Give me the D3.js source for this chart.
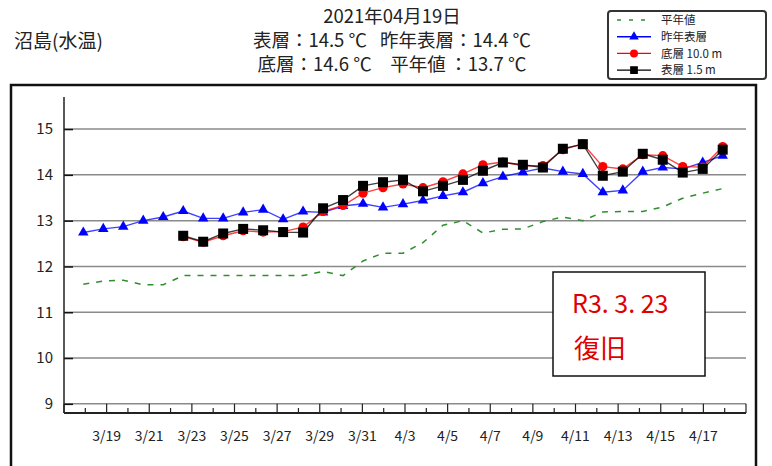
<!DOCTYPE html>
<html>
<head>
<meta charset="utf-8">
<script src="https://cdn.jsdelivr.net/npm/d3@7/dist/d3.min.js"></script>
<style>
body{margin:0;background:#fff;}
text{font-family:"Noto Sans CJK JP","Noto Sans",sans-serif;fill:#222;}
</style>
</head>
<body>
<svg id="graph"></svg>
<script>
// data
var dates=["3/18","3/19","3/20","3/21","3/22","3/23","3/24","3/25","3/26","3/27","3/28",
    "3/29","3/30","3/31","4/1","4/2","4/3","4/4","4/5","4/6","4/7","4/8","4/9","4/10",
    "4/11","4/12","4/13","4/14","4/15","4/16","4/17","4/18","4/19"]
var tickLabels=["3/19","3/21","3/23","3/25","3/27","3/29","3/31","4/3","4/5","4/7",
    "4/9","4/11","4/13","4/15","4/17"]
var yTicks=[9,10,11,12,13,14,15]

var normal=[11.61,11.68,11.70,11.60,11.60,11.80,11.80,11.80,11.80,11.80,11.80,11.80,
    11.89,11.80,12.12,12.29,12.29,12.52,12.90,13.00,12.73,12.81,12.82,12.98,13.08,
    13.00,13.19,13.20,13.20,13.30,13.49,13.60,13.70]
var lastYear=[12.74,12.82,12.87,13.00,13.08,13.21,13.05,13.05,13.18,13.24,13.03,13.20,
    13.18,13.32,13.37,13.29,13.36,13.44,13.54,13.62,13.82,13.96,14.06,14.15,14.07,
    14.02,13.62,13.66,14.07,14.16,14.13,14.27,14.42]
var bottom10=[null,null,null,null,null,12.65,12.53,12.67,12.78,12.75,12.76,12.86,
    13.20,13.33,13.60,13.72,13.80,13.72,13.85,14.02,14.22,14.28,14.20,14.20,14.55,
    14.68,14.18,14.13,14.44,14.42,14.18,14.17,14.62]
var surface15=[null,null,null,null,null,12.67,12.54,12.72,12.82,12.79,12.75,12.74,
    13.27,13.45,13.76,13.84,13.89,13.64,13.76,13.89,14.09,14.27,14.22,14.16,14.57,
    14.67,13.98,14.07,14.46,14.33,14.05,14.13,14.55]

var legendNames=["平年値","昨年表層","底層 10.0 m","表層 1.5 m"]
var titleLines=["2021年04月19日",
    "表層：14.5 ℃\u2002\u2009昨年表層：14.4 ℃",
    "底層：14.6 ℃\u3000平年値\u2009：13.7 ℃"]

var initGraph=function()
    {
        var screen={width:772,height:466}
        var plot={left:64,right:746,top:97,bottom:413}

        var svg=d3.select("#graph")
            .attr("width",screen.width)
            .attr("height",screen.height)

        // outer frame
        svg.append("rect")
            .attr("x",11).attr("y",85)
            .attr("width",745).attr("height",400)
            .attr("fill","none")
            .attr("stroke","#111")
            .attr("stroke-width",2.5)

        var yScale=d3.scaleLinear()
            .domain([8.8,15.7])
            .range([plot.bottom,plot.top])
        // tick slots along the axis (one more slot than data intervals)
        var tickScale=d3.scaleLinear()
            .domain([0,32])
            .range([plot.left,plot.right])
        var xScale=d3.scalePoint()
            .domain(dates)
            .range([83.3,722.7])

        drawAxes(svg,plot,yScale,tickScale)
        drawLines(svg,xScale,yScale)
        drawLabels(svg)
    }

var drawAxes=function(svg,plot,yScale,tickScale)
    {
        var grid=svg.append("g")
        grid.selectAll("line")
            .data(yTicks)
            .enter()
            .append("line")
            .attr("x1",plot.left).attr("x2",plot.right)
            .attr("y1",function(d){return yScale(d)})
            .attr("y2",function(d){return yScale(d)})
            .attr("stroke","#8a8a8a")
            .attr("stroke-width",1.5)

        var yAxis=d3.axisLeft(yScale)
            .tickValues(yTicks)
            .tickFormat(d3.format("d"))
            .tickSize(-9)
            .tickPadding(11)
        var ya=svg.append("g")
            .attr("transform","translate("+plot.left+",0)")
            .call(yAxis)
        ya.select(".domain").remove()
        ya.selectAll("line").attr("stroke","#111").attr("stroke-width",1.5)
        ya.selectAll("text")
            .style("font-size","15px")
            .attr("fill","#333")
        svg.append("line")
            .attr("x1",plot.left).attr("x2",plot.left)
            .attr("y1",plot.top).attr("y2",plot.bottom)
            .attr("stroke","#222").attr("stroke-width",1.5)

        var xAxis=svg.append("g")
        xAxis.append("line")
            .attr("x1",plot.left).attr("x2",plot.right)
            .attr("y1",plot.bottom).attr("y2",plot.bottom)
            .attr("stroke","#222").attr("stroke-width",1.8)
        xAxis.selectAll(".tk")
            .data(d3.range(0,33))
            .enter()
            .append("line")
            .attr("x1",function(k){return tickScale(k)})
            .attr("x2",function(k){return tickScale(k)})
            .attr("y1",function(k){return k%2==0 ? yScale(9) : plot.bottom-5})
            .attr("y2",plot.bottom)
            .attr("stroke","#222").attr("stroke-width",1.2)
        xAxis.selectAll("text")
            .data(tickLabels)
            .enter()
            .append("text")
            .text(function(d){return d})
            .attr("x",function(d,i){return tickScale(2+2*i)})
            .attr("y",441)
            .attr("text-anchor","middle")
            .style("font-size","14px")
    }

var drawLines=function(svg,xScale,yScale)
    {
        var lineGen=d3.line()
            .defined(function(d){return d!=null})
            .x(function(d,i){return xScale(dates[i])})
            .y(function(d){return yScale(d)})

        svg.append("path")
            .datum(normal)
            .attr("d",lineGen)
            .attr("fill","none")
            .attr("stroke","#2f8f2f")
            .attr("stroke-width",1.5)
            .attr("stroke-dasharray","6,7")

        var series=[
            {vals:lastYear,color:"#0000ff",mark:"tri"},
            {vals:bottom10,color:"#ff0000",mark:"circle"},
            {vals:surface15,color:"#000000",mark:"square"}
        ]
        series.forEach(function(s)
            {
                svg.append("path")
                    .datum(s.vals)
                    .attr("d",lineGen)
                    .attr("fill","none")
                    .attr("stroke",s.color)
                    .attr("stroke-opacity",0.75)
                    .attr("stroke-width",1.4)
                var pts=s.vals.map(function(v,i){return {d:dates[i],v:v}})
                    .filter(function(p){return p.v!=null})
                drawMarks(svg.append("g"),pts,s,xScale,yScale)
            })
    }

var drawMarks=function(g,pts,s,xScale,yScale)
    {
        var sel=g.selectAll("path")
            .data(pts)
            .enter()
            .append("path")
            .attr("transform",function(p){return "translate("+xScale(p.d)+","+yScale(p.v)+")"})
            .attr("fill",s.color)
        if(s.mark=="tri"){sel.attr("d",d3.symbol(d3.symbolTriangle).size(48))}
        else if(s.mark=="circle"){sel.attr("d",d3.symbol(d3.symbolCircle).size(66))}
        else {sel.attr("d",d3.symbol(d3.symbolSquare).size(100))}
    }

var drawLabels=function(svg)
    {
        svg.append("text")
            .text("沼島(水温)")
            .attr("x",14).attr("y",48)
            .style("font-size","19px")

        svg.append("g").selectAll("text")
            .data(titleLines)
            .enter()
            .append("text")
            .text(function(d){return d})
            .attr("x",392)
            .attr("y",function(d,i){return 23+i*24})
            .attr("text-anchor","middle")
            .style("font-size","18.5px")

        // legend
        var lg=svg.append("g").attr("transform","translate(608,11)")
        lg.append("rect")
            .attr("width",158).attr("height",68)
            .attr("rx",3)
            .attr("fill","#fff")
            .attr("stroke","#333")
            .attr("stroke-width",2)
        var colors=["#2f8f2f","#0000ff","#ff0000","#000000"]
        var marks=[null,d3.symbolTriangle,d3.symbolCircle,d3.symbolSquare]
        var sizes=[0,40,50,60]
        legendNames.forEach(function(name,i)
            {
                var y=9+i*16.7
                lg.append("line")
                    .attr("x1",9).attr("x2",43)
                    .attr("y1",y).attr("y2",y)
                    .attr("stroke",colors[i])
                    .attr("stroke-width",1.4)
                    .attr("stroke-dasharray",i==0 ? "4,8" : null)
                if(marks[i])
                    {
                        lg.append("path")
                            .attr("d",d3.symbol(marks[i]).size(sizes[i]))
                            .attr("transform","translate(26,"+y+")")
                            .attr("fill",colors[i])
                    }
                lg.append("text")
                    .text(name)
                    .attr("x",53).attr("y",y+4.3)
                    .style("font-size","11.5px")
            })

        // note box
        var nb=svg.append("g").attr("transform","translate(553,272)")
        nb.append("rect")
            .attr("width",152).attr("height",104)
            .attr("fill","#fff")
            .attr("stroke","#111")
            .attr("stroke-width",1.5)
        nb.append("text")
            .text("R3.\u00a03.\u00a023")
            .attr("x",19).attr("y",41)
            .style("font-size","25px")
            .style("fill","#e00000")
        nb.append("text")
            .text("復旧")
            .attr("x",21).attr("y",86)
            .style("font-size","26px")
            .style("fill","#e00000")
    }

initGraph()
</script>
</body>
</html>
